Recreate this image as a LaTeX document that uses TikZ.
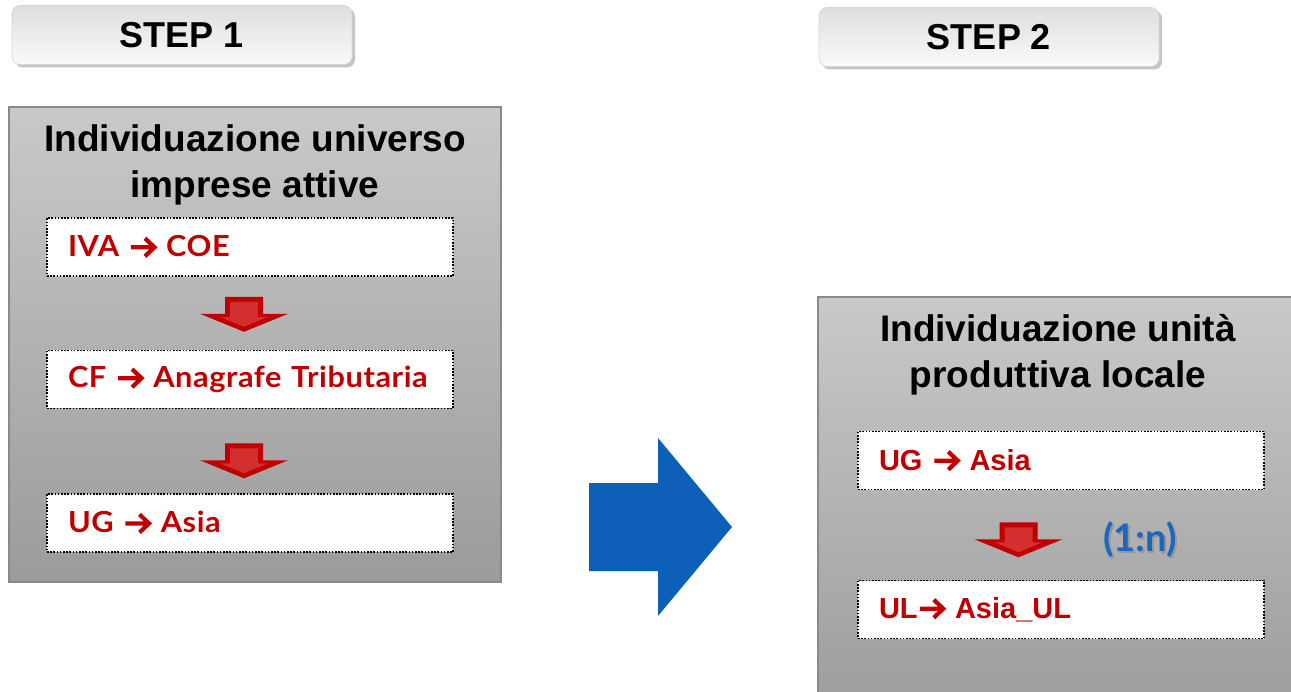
\documentclass[tikz,border=0pt]{standalone}
\usepackage{fontspec}
\setmainfont{Liberation Sans}
\newfontfamily\gill[LetterSpace=2,FakeStretch=1.06]{Lato}
\newfontfamily\gillr{Lato}
\usetikzlibrary{shadows,calc}
\definecolor{dred}{HTML}{C00000}
\definecolor{lred}{HTML}{D32F2F}
\definecolor{bluearr}{HTML}{0E5FB8}
\definecolor{bluetxt}{HTML}{1A67BE}
\definecolor{boxtop}{HTML}{C9C9C9}
\definecolor{boxbot}{HTML}{9B9B9B}
\definecolor{boxborder}{HTML}{8A8A8A}
\newcommand{\rarr}{\tikz[baseline=0pt,x=1pt,y=1pt]{\draw[solid,dred,line width=4.2pt,line join=miter] (0,9.5) -- (23,9.5) (14,0.5) -- (23.5,9.5) -- (14,18.5);}}
\tikzset{
  tabbox/.style={rounded corners=8pt, minimum width=340pt, minimum height=59pt,
    top color={rgb,255:red,222;green,222;blue,222}, bottom color={rgb,255:red,250;green,250;blue,250},
    draw={rgb,255:red,215;green,215;blue,215}, line width=0.6pt,
    drop shadow={shadow xshift=3pt, shadow yshift=-3pt, opacity=0.45, fill=gray},
    font=\fontsize{36}{40}\selectfont\bfseries, text=black},
  bigbox/.style={draw=boxborder, line width=1.5pt, top color=boxtop, bottom color=boxbot},
  titletext/.style={align=center, font=\fontsize{37}{46}\selectfont\bfseries, text=black},
  wbox/.style={draw=black, fill=white, line width=1.6pt, dash pattern=on 1.6pt off 1.6pt,
    minimum height=58pt, text width=364pt, inner xsep=21pt, align=left, text=dred},
  ltext/.style={font=\gill\fontsize{29}{32}\selectfont\bfseries},
  rtext/.style={font=\fontsize{29}{32}\selectfont\bfseries},
  ratiotext/.style={font=\gillr\fontsize{38}{42}\selectfont\bfseries},
  pics/redarrow/.style={code={
    \fill[dred] (-19,0) -- (19,0) -- (19,17) -- (44,17) -- (0,35) -- (-44,17) -- (-19,17) -- cycle;
    \fill[lred] (-14,5) -- (14,5) -- (14,20) -- (24,20) -- (0,30) -- (-24,20) -- (-14,20) -- cycle;
  }}
}
\begin{document}
\begin{tikzpicture}[x=1pt,y=-1pt]
\useasboundingbox (0,0) rectangle (1291,692);
\clip (0,0) rectangle (1291,692);
\fill[white] (0,0) rectangle (1291,692);

% tabs
\node[tabbox] (s1) at (182,35) {STEP 1};
\node[tabbox] (s2) at (989,37) {STEP 2};

% big boxes
\node[bigbox, minimum width=492pt, minimum height=475pt] (b1) at (255,344.5) {};
\node[bigbox, minimum width=482pt, minimum height=430pt] (b2) at (1059,512) {};

% titles
\node[titletext] (t1) at (255,165) {Individuazione universo\\imprese attive};
\node[titletext] (t2) at (1058,355) {Individuazione unità\\produttiva locale};

% left white boxes
\node[wbox, ltext] (w1) at (250,247) {IVA \rarr{} COE};
\node[wbox, ltext] (w2) at (250,379.5) {CF \rarr{} Anagrafe Tributaria};
\node[wbox, ltext] (w3) at (250,523) {UG \rarr{} Asia};

% right white boxes
\node[wbox, rtext] (w4) at (1061,460.5) {UG \rarr{} Asia};
\node[wbox, rtext] (w5) at (1061,609.5) {UL\rarr{} Asia\_UL};

% red arrows
\pic at ($(w1.south)+(-6,20)$) {redarrow};
\pic at ($(w2.south)+(-6,34)$) {redarrow};
\pic at ($(w4.south)+(-42.5,32)$) {redarrow};

% ratio label with soft shadow
\node[ratiotext, text=gray, opacity=0.5] at (1142,542) {(1:n)};
\node[ratiotext, text=bluetxt] (ratio) at (1140,540) {(1:n)};

% big blue arrow
\coordinate (ba) at (589,527);
\fill[bluearr] (ba) ++(0,-44) -- ++(69,0) -- ++(0,-45) -- (732,527) -- (658,616) -- (658,571) -- (589,571) -- cycle;
\end{tikzpicture}
\end{document}
